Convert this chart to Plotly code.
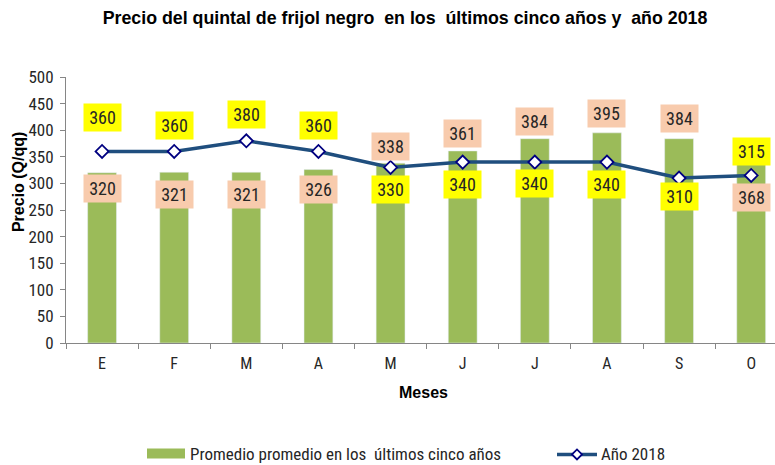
import plotly.graph_objects as go

months = ["E", "F", "M", "A", "M", "J", "J", "A", "S", "O"]
avg_5yr = [320, 321, 321, 326, 338, 361, 384, 395, 384, 368]
year_2018 = [360, 360, 380, 360, 330, 340, 340, 340, 310, 315]

# label offsets in pixels (positive = up)
avg_label_shift = [-16, -22, -22, -20, 17, 17, 17, 19, 20, -50]
y18_label_shift = [34, 26, 26, 26, -22, -22, -21, -22, -18, 24]

# make duplicate month letters unique categories (zero-width space)
cats = []
for m in months:
    c = m
    while c in cats:
        c += "\u200b"
    cats.append(c)

NARROW = "Roboto Condensed, Liberation Sans Narrow, Arial Narrow, sans-serif"
BOLD = "Liberation Sans, Arial, sans-serif"
TXT = "#262626"
GREEN = "#9BBB59"
LINE = "#1F4E7E"
MK = "#000080"

fig = go.Figure()
fig.add_trace(go.Bar(x=cats, y=avg_5yr, marker_color=GREEN, width=0.4,
                     name="Promedio promedio en los  últimos cinco años", showlegend=False))
fig.add_trace(go.Scatter(x=cats, y=year_2018, mode="lines+markers",
                         line=dict(color=LINE, width=3.5),
                         marker=dict(symbol="diamond", size=10, color="white",
                                     line=dict(color=MK, width=1.8)),
                         name="Año 2018", showlegend=False))

ann = []
for c, v, s in zip(cats, avg_5yr, avg_label_shift):
    ann.append(dict(x=c, y=v, yshift=s, text=str(v), showarrow=False,
                    bgcolor="#F8CBAD", width=35, height=25,
                    font=dict(family=NARROW, size=18, color=TXT)))
for c, v, s in zip(cats, year_2018, y18_label_shift):
    ann.append(dict(x=c, y=v, yshift=s, text=str(v), showarrow=False,
                    bgcolor="#FFFF00", width=35, height=25,
                    font=dict(family=NARROW, size=18, color=TXT)))

# axis titles
ann.append(dict(xref="paper", yref="paper", x=0, xshift=-48, y=0.605, xanchor="center",
                yanchor="middle", text="<b>Precio (Q/qq)</b>",
                textangle=-90, showarrow=False, font=dict(family=BOLD, size=16, color="black")))
ann.append(dict(xref="paper", yref="paper", x=(423 - 66) / 709, y=0, yshift=-49,
                xanchor="center", yanchor="middle", text="<b>Meses</b>",
                showarrow=False, font=dict(family=BOLD, size=16, color="black")))
# legend texts
ann.append(dict(xref="paper", yref="paper", x=(188 - 66) / 709, y=0, yshift=-111,
                xanchor="left", yanchor="middle",
                text="Promedio promedio en los  últimos cinco años", showarrow=False,
                font=dict(family=NARROW, size=17, color=TXT)))
ann.append(dict(xref="paper", yref="paper", x=(599 - 66) / 709, y=0, yshift=-111,
                xanchor="left", yanchor="middle",
                text="Año 2018", showarrow=False,
                font=dict(family=NARROW, size=17, color=TXT)))

fig.update_layout(
    width=775, height=465,
    margin=dict(l=66, r=0, t=77, b=122),
    plot_bgcolor="white", paper_bgcolor="white",
    title=dict(text="<b>Precio del quintal de frijol negro  en los  últimos cinco años y  año 2018</b>",
               x=405 / 775, xanchor="center", y=1 - 18 / 465, yanchor="middle",
               font=dict(family=BOLD, size=17.8, color="black")),
    annotations=ann,
    bargap=0.6,
)
fig.update_xaxes(type="category", range=[-0.5, 9.33], tickson="boundaries", ticks="outside",
                 ticklen=5, tickcolor="#868686", showline=True, linecolor="#868686", linewidth=1,
                 showgrid=False, ticklabelstandoff=6,
                 tickfont=dict(family=NARROW, size=16, color=TXT))
fig.update_yaxes(range=[0, 500], dtick=50, ticks="outside", ticklen=5, tickcolor="#868686",
                 showline=True, linecolor="#868686", linewidth=1, showgrid=False, zeroline=False,
                 ticklabelstandoff=3,
                 tickfont=dict(family=NARROW, size=17, color=TXT))

# custom legend symbols
def px_x(p):
    return (p - 66) / 709

def px_y(p):
    return (342.7 - p) / 265.7

fig.add_shape(type="rect", xref="paper", yref="paper", x0=px_x(147), x1=px_x(185),
              y0=px_y(458), y1=px_y(448), line=dict(width=0), fillcolor=GREEN)
fig.add_shape(type="line", xref="paper", yref="paper", x0=px_x(557), x1=px_x(597),
              y0=px_y(454), y1=px_y(454), line=dict(color=LINE, width=3.5))
fig.add_shape(type="path", xref="paper", yref="paper", xsizemode="pixel", ysizemode="pixel",
              xanchor=px_x(577), yanchor=px_y(454), path="M -5 0 L 0 5 L 5 0 L 0 -5 Z",
              fillcolor="white", line=dict(color=MK, width=1.8))

fig.write_html("out.html", config={"displayModeBar": False},
               post_script="document.body.style.margin='0';")
